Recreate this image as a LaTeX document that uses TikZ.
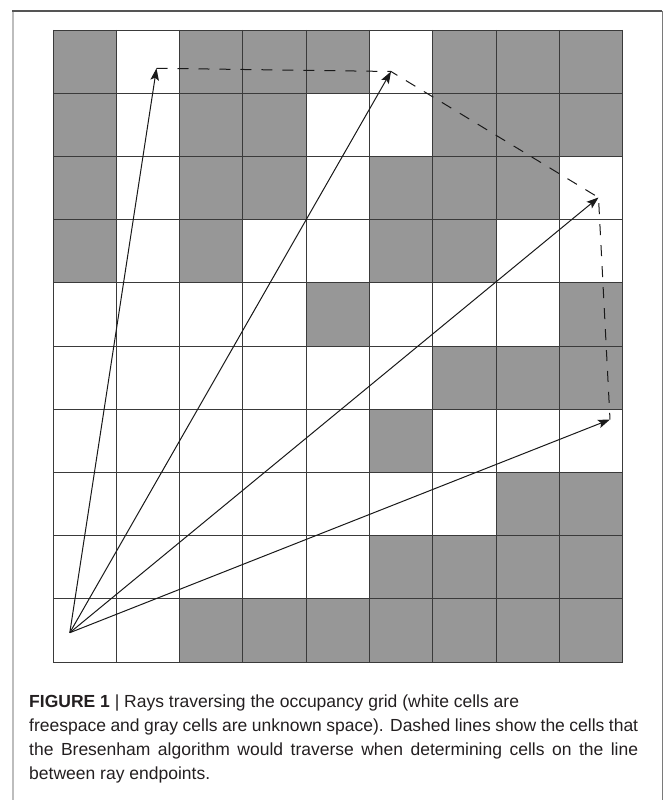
\documentclass[tikz,border=0pt]{standalone}
\usepackage{fontspec}
\setmainfont{Liberation Sans}
\usetikzlibrary{arrows.meta}
\definecolor{cellgray}{HTML}{979797}
\definecolor{gridline}{HTML}{3A3A3A}
\definecolor{frameleft}{HTML}{BDBDBD}
\definecolor{frametop}{HTML}{555555}
\definecolor{frameright}{HTML}{7A7A7A}
\definecolor{captext}{HTML}{231F20}
\tikzset{
  gridrule/.style={draw=gridline, line width=0.9pt},
  ray/.style={draw=black!90, line width=1pt, -{Stealth[length=12pt,width=8.5pt,inset=2.5pt]}},
  bresenham/.style={draw=black!90, line width=1pt, dash pattern=on 11pt off 10pt},
  captionbox/.style={anchor=north west, inner sep=0pt, text width=609pt, align=justify,
    text=captext, font=\fontsize{17.5}{24}\selectfont}
}
\begin{document}
\begin{tikzpicture}[x=1pt,y=-1pt]
\useasboundingbox (0,0) rectangle (663,800);
% frame
\draw[frameleft, line width=2pt] (12.7,11) -- (12.7,800);
\draw[frametop, line width=1.1pt] (12,11) -- (662,11);
\draw[frameright, line width=1pt] (662,11) -- (662,800);
% gray cells
\foreach \r/\c in {0/0,0/2,0/3,0/4,0/6,0/7,0/8,
                   1/0,1/2,1/3,1/6,1/7,1/8,
                   2/0,2/2,2/3,2/5,2/6,2/7,
                   3/0,3/2,3/5,3/6,
                   4/4,4/8,
                   5/6,5/7,5/8,
                   6/5,
                   7/7,7/8,
                   8/5,8/6,8/7,8/8,
                   9/2,9/3,9/4,9/5,9/6,9/7,9/8}
  \fill[cellgray] ({53+\c*63.3},{30+\r*63.2}) rectangle ++(63.3,63.2);
% grid lines
\foreach \i in {0,...,9}
  \draw[gridrule] ({53+\i*63.3},30) -- ({53+\i*63.3},662);
\foreach \j in {0,...,10}
  \draw[gridrule] (53,{30+\j*63.2}) -- (622.7,{30+\j*63.2});
% ray origin and endpoints
\coordinate (O) at (69.8,632.7);
\coordinate (T1) at (156.5,68.3);
\coordinate (T2) at (391,71.5);
\coordinate (T3) at (598.5,197.5);
\coordinate (T4) at (610,419.5);
% Bresenham path
\draw[bresenham] (T1) -- (T2) -- (T3) -- (T4);
% rays
\draw[ray] (O) -- (T1);
\draw[ray] (O) -- (T2);
\draw[ray] (O) -- (T3);
\draw[ray] (O) -- (T4);
% caption
\node[captionbox] (cap) at (29,694.5) {\textbf{FIGURE 1} | Rays traversing the occupancy grid (white cells are\newline
freespace and gray cells are unknown space). Dashed lines show the cells that\linebreak
the Bresenham algorithm would traverse when determining cells on the line\linebreak
between ray endpoints.};
\end{tikzpicture}
\end{document}
